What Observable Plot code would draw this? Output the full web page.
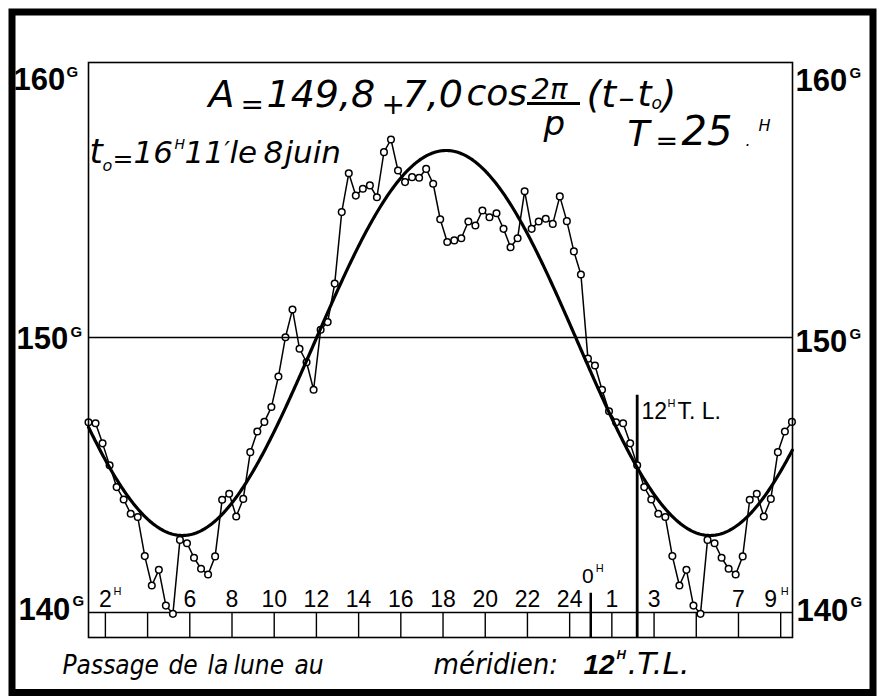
<!DOCTYPE html>
<html><head><meta charset="utf-8">
<script src="https://cdn.jsdelivr.net/npm/d3@7"></script>
<script src="https://cdn.jsdelivr.net/npm/@observablehq/plot@0.6"></script>
<style>html,body{margin:0;padding:0;background:#fff;}</style>
</head><body><div id="chart"></div>
<script>
// ---- DATA -----------------------------------------------------------
// Readings (grades) every 20 minutes over one 25-hour period, from hour 1.2
const startHour = 1.2;
const stepHours = 1 / 3;
const periodHours = 25;
const readings = [
  146.92, 146.88, 146.15, 145.35, 144.56, 144.11, 143.59, 143.47, 142.05, 140.98,
  141.55, 140.25, 139.95, 142.64, 142.52, 141.99, 141.59, 141.38, 142.04, 144.10,
  144.32, 143.49, 144.13, 145.83, 146.58, 146.93, 147.47, 148.58, 150.01, 151.02,
  149.59, 149.10, 148.10, 150.28, 150.56, 151.96, 154.56, 155.97, 155.16, 155.41,
  155.53, 155.10, 156.74, 157.20, 156.07, 155.65, 155.83, 155.81, 156.13, 155.59,
  154.30, 153.47, 153.53, 153.61, 154.22, 154.07, 154.62, 154.37, 154.52, 153.95,
  153.28, 153.61, 155.32, 153.95, 154.22, 154.32, 154.13, 155.13, 154.23, 153.13,
  152.29, 149.23, 148.98, 148.10, 147.32
];
// Fitted law A = 149.8 + 7.0 cos 2π/T (t - t0), T = 25 h (peak at axis hour ~18.15)
const fitMean = 149.8;
const fitAmplitude = 7.0;
const fitPeakHour = 18.15;

// Axis
const xDomain = [1.2, 34.56];
const yDomain = [139.09, 160];
const labelHours = [2, 6, 8, 10, 12, 14, 16, 18, 20, 22, 24, 26, 28, 32];
const labelTexts = ["2", "6", "8", "10", "12", "14", "16", "18", "20", "22", "24", "1", "3", "7"];
const stripTicks = [2, 4, 6, 8, 10, 12, 14, 16, 18, 20, 22, 24, 26, 28, 30, 32, 34];
const midnightHour = 25;      // 0ᴴ
const meridianHour = 27.2;    // 12ᴴ T.L.
const lastLabelHour = 34;     // 9ᴴ

// ---- BUILD ----------------------------------------------------------
const series = [];
for (let i = 0; startHour + i * stepHours <= xDomain[1]; i++) {
  series.push({t: startHour + i * stepHours, v: readings[i % readings.length]});
}
const fit = d3.range(xDomain[0], xDomain[1] + 0.001, 0.05).map(t => ({
  t, v: fitMean + fitAmplitude * Math.cos(2 * Math.PI * (t - fitPeakHour) / periodHours)
}));
const labelRows = labelHours.map((h, i) => ({h, label: labelTexts[i]}));

const W = 879, H = 698, ML = 88, MR = 87, MT = 62, MB = 61;
const px2h = px => xDomain[0] + (px - ML) * (xDomain[1] - xDomain[0]) / (W - ML - MR);
const py2v = py => yDomain[1] - (py - MT) * (yDomain[1] - yDomain[0]) / (H - MT - MB);

const LIB = "'Liberation Sans', Arial, sans-serif";
const SANS = "'DejaVu Sans', sans-serif";
const COND = "'DejaVu Sans Condensed', 'DejaVu Sans', sans-serif";

function note(text, px, py, size, opts = {}) {
  return Plot.text([text], {
    text: d => d, frameAnchor: "top-left", dx: px - ML, dy: py - MT,
    fontSize: size, textAnchor: "start", lineAnchor: "bottom", fill: "black",
    fontFamily: SANS, ...opts
  });
}
const it = {fontStyle: "oblique"};
const bold = {fontFamily: LIB, fontWeight: "bold"};
const cap = {fontFamily: COND, fontStyle: "oblique"};

const chart = Plot.plot({
  width: W, height: H,
  marginLeft: ML, marginRight: MR, marginTop: MT, marginBottom: MB,
  x: {domain: xDomain, axis: null},
  y: {domain: yDomain, axis: null},
  style: {background: "white", overflow: "visible"},
  marks: [
    // bottom strip
    Plot.ruleY([140], {stroke: "black", strokeWidth: 1.5}),
    Plot.ruleX(stripTicks, {y1: yDomain[0], y2: 140, stroke: "black", strokeWidth: 1.4}),
    Plot.ruleX([midnightHour], {y1: yDomain[0], y2: 140.7, stroke: "black", strokeWidth: 2.5}),
    Plot.ruleX([meridianHour], {y1: yDomain[0], y2: 147.9, stroke: "black", strokeWidth: 2.8}),
    // hour labels
    Plot.text(labelRows, {x: "h", y: 140, text: "label", dy: -5, lineAnchor: "bottom",
      fontSize: 23, fontFamily: LIB, fill: "black"}),
    Plot.text([lastLabelHour], {x: d => d, y: 140, text: () => "9", dx: -10, dy: -5, lineAnchor: "bottom",
      fontSize: 23, fontFamily: LIB, fill: "black"}),
    Plot.text([lastLabelHour], {x: d => d, y: 140, text: () => "H", dx: 4, dy: -17, lineAnchor: "bottom",
      fontSize: 11, fontFamily: LIB, fill: "black"}),
    Plot.text([2], {x: d => d, y: 140, text: () => "H", dx: 12, dy: -17, lineAnchor: "bottom",
      fontSize: 11, fontFamily: LIB, fill: "black"}),
    Plot.text([midnightHour], {x: d => d, y: 140, text: () => "0", dx: -3, dy: -29, lineAnchor: "bottom",
      fontSize: 21, fontFamily: LIB, fill: "black"}),
    Plot.text([midnightHour], {x: d => d, y: 140, text: () => "H", dx: 9, dy: -40, lineAnchor: "bottom",
      fontSize: 11, fontFamily: LIB, fill: "black"}),
    // data
    Plot.line(series, {x: "t", y: "v", stroke: "black", strokeWidth: 1.5}),
    Plot.dot(series, {x: "t", y: "v", r: 3.3, fill: "white", stroke: "black", strokeWidth: 1.5}),
    Plot.ruleY([150], {stroke: "black", strokeWidth: 1.3}),
    Plot.line(fit, {x: "t", y: "v", stroke: "black", strokeWidth: 3.2}),
    Plot.frame({stroke: "black", strokeWidth: 1.6}),
    // equation
    note("A", 208, 106, 38, it),
    note("=", 240, 113, 28, it),
    note("149,8", 266, 106, 38, it),
    note("+", 381, 113, 28, it),
    note("7,0", 402, 106, 38, it),
    note("cos", 466, 104, 36, it),
    note("2π", 531, 98, 29, it),
    Plot.ruleY([py2v(103)], {x1: px2h(527), x2: px2h(580), stroke: "black", strokeWidth: 3}),
    note("p", 543, 134, 34, it),
    note("(t", 586, 106, 38, it),
    note("–", 618, 108, 32, it),
    note("t", 637, 105, 36, it),
    note("o", 651, 108, 17, it),
    note(")", 661, 106, 38, it),
    // t0 line
    note("t", 89, 162, 34, it),
    note("o", 102, 170, 16, it),
    note("=", 112, 166, 25, it),
    note("16", 133, 162, 31, it),
    note("H", 174, 148, 14, it),
    note("11", 184, 162, 31, it),
    note("′", 224, 158, 24, it),
    note("le", 229, 162, 31, it),
    note("8", 263, 162, 31, it),
    note("juin", 284, 162, 31, it),
    // T = 25H
    note("T", 627, 145, 36, it),
    note("=", 655, 149, 27, it),
    note("25", 681, 144, 40, it),
    note(".", 745, 145, 16, it),
    note("H", 758, 130, 16, it),
    // 12H T.L.
    note("12", 641, 418, 23, {fontFamily: LIB}),
    note("H", 667, 406, 11, {fontFamily: LIB}),
    note("T. L.", 677, 418, 23, {fontFamily: LIB}),
    // y labels
    note("160", 13, 89, 31, bold), note("G", 66, 76, 15, bold),
    note("150", 16, 348, 31, bold), note("G", 70, 336, 15, bold),
    note("140", 18, 619, 31, bold), note("G", 72, 605, 15, bold),
    note("160", 795, 90, 31, bold), note("G", 849, 77, 15, bold),
    note("150", 795, 351, 31, bold), note("G", 849, 338, 15, bold),
    note("140", 796, 620, 31, bold), note("G", 850, 606, 15, bold),
    // caption
    note("Passage", 62, 673, 26, cap),
    note("de", 168, 673, 26, cap),
    note("la", 207, 673, 26, cap),
    note("lune", 233, 673, 26, cap),
    note("au", 294, 673, 26, cap),
    note("méridien:", 433, 673, 29, cap),
    note("12", 583, 673, 28, {fontFamily: LIB, fontWeight: "bold", fontStyle: "italic"}),
    note("H", 616, 658, 13, {fontFamily: LIB, fontWeight: "bold", fontStyle: "italic"}),
    note(".T.L.", 627, 673, 31, it),
    // outer border
    Plot.frame({stroke: "black", strokeWidth: 7, insetLeft: -76.5, insetTop: -50.5, insetRight: -80.5, insetBottom: -55})
  ]
});
document.getElementById("chart").appendChild(chart);
</script>
</body></html>
